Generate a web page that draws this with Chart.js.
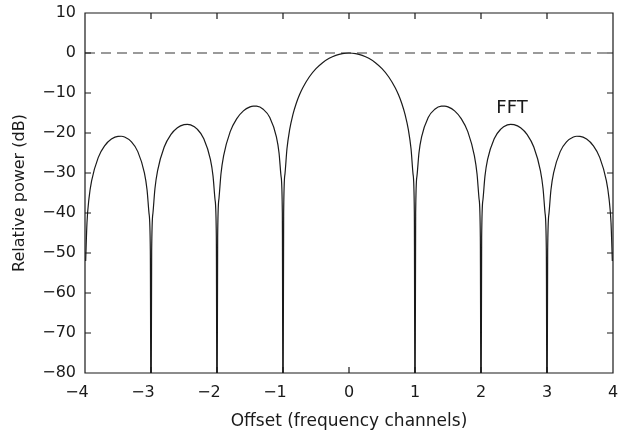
<!DOCTYPE html>
<html>
<head>
<meta charset="utf-8">
<title>FFT channel response</title>
<script src="https://cdn.jsdelivr.net/npm/chart.js@4/dist/chart.umd.min.js"></script>
<style>
  html, body { margin: 0; padding: 0; background: #fff; }
  #wrap { width: 622px; height: 434px; position: relative; }
</style>
</head>
<body>
<div id="wrap"><canvas id="fftChart"></canvas></div>
<script>
// Offset in frequency channels (denser near the nulls)
const offsets = [
  -3.99, -3.97, -3.94, -3.9, -3.8, -3.7, -3.6, -3.5, -3.45, -3.4, -3.3, -3.2, -3.1, -3.06, -3.03, -3.01,
  -3, -2.99, -2.97, -2.94, -2.9, -2.8, -2.7, -2.6, -2.5, -2.45, -2.4, -2.3, -2.2, -2.1, -2.06, -2.03, -2.01,
  -2, -1.99, -1.97, -1.94, -1.9, -1.8, -1.7, -1.6, -1.5, -1.45, -1.4, -1.3, -1.2, -1.1, -1.06, -1.03, -1.01,
  -1, -0.99, -0.97, -0.94, -0.9, -0.85, -0.8, -0.75, -0.7, -0.6, -0.5, -0.4, -0.3, -0.2, -0.1,
  0,
  0.1, 0.2, 0.3, 0.4, 0.5, 0.6, 0.7, 0.75, 0.8, 0.85, 0.9, 0.94, 0.97, 0.99, 1,
  1.01, 1.03, 1.06, 1.1, 1.2, 1.3, 1.4, 1.45, 1.5, 1.6, 1.7, 1.8, 1.9, 1.94, 1.97, 1.99, 2,
  2.01, 2.03, 2.06, 2.1, 2.2, 2.3, 2.4, 2.45, 2.5, 2.6, 2.7, 2.8, 2.9, 2.94, 2.97, 2.99, 3,
  3.01, 3.03, 3.06, 3.1, 3.2, 3.3, 3.4, 3.45, 3.5, 3.6, 3.7, 3.8, 3.9, 3.94, 3.97, 3.99
];

// Relative power (dB); nulls run off the bottom of the plot
const power = [
  -52.02, -42.45, -36.40, -31.96, -26.16, -23.15, -21.51, -20.82, -20.81, -21.01, -22.15, -24.66, -29.97, -34.20, -40.10, -49.57,
  -100, -49.51, -39.93, -33.86, -29.39, -23.50, -20.41, -18.68, -17.90, -17.83, -17.98, -19.02, -21.41, -26.59, -30.77, -36.62, -46.07,
  -100, -45.98, -36.36, -30.25, -25.72, -19.66, -16.39, -14.46, -13.46, -13.28, -13.30, -14.06, -16.14, -20.97, -24.99, -30.73, -40.09,
  -100, -39.91, -30.21, -23.95, -19.23, -15.39, -12.62, -10.45, -8.69, -5.94, -3.92, -2.42, -1.33, -0.58, -0.14,
  0,
  -0.14, -0.58, -1.33, -2.42, -3.92, -5.94, -8.69, -10.45, -12.62, -15.39, -19.23, -23.95, -30.21, -39.91, -100,
  -40.09, -30.73, -24.99, -20.97, -16.14, -14.06, -13.30, -13.28, -13.46, -14.46, -16.39, -19.66, -25.72, -30.25, -36.36, -45.98, -100,
  -46.07, -36.62, -30.77, -26.59, -21.41, -19.02, -17.98, -17.83, -17.90, -18.68, -20.41, -23.50, -29.39, -33.86, -39.93, -49.51, -100,
  -49.57, -40.10, -34.20, -29.97, -24.66, -22.15, -21.01, -20.81, -20.82, -21.51, -23.15, -26.16, -31.96, -36.40, -42.45, -52.02
];

// 0 dB reference line
const refX = [-4, 4];
const refY = [0, 0];

// Axis ticks
const xTickValues = [-4, -3, -2, -1, 0, 1, 2, 3, 4];
const yTickValues = [10, 0, -10, -20, -30, -40, -50, -60, -70, -80];

const inkColor = '#1a1a1a';
const fontFamily = '"DejaVu Sans", "Liberation Sans", Arial, sans-serif';

if (offsets.length !== power.length) {
    console.error('offsets/power length mismatch', offsets.length, power.length);
}

function minusLabel(v) {
    return v < 0 ? '\u2212' + Math.abs(v) : String(v);
}

// fixed axis boxes, no extra label overhang padding
function fixBox(size) {
    return s => {
        if (s.isHorizontal()) s.height = size; else s.width = size;
        s.paddingTop = 0; s.paddingBottom = 0;
        s.paddingLeft = 0; s.paddingRight = 0;
    };
}

// Box round the plot plus inward tick marks on all four sides, and the FFT label
const frameAndTicks = {
    id: 'frameAndTicks',
    afterDatasetsDraw(chart) {
        const { ctx, chartArea: a, scales: { x, y } } = chart;
        const len = 6;
        ctx.save();
        ctx.strokeStyle = inkColor;
        ctx.lineWidth = 1.2;
        ctx.beginPath();
        ctx.rect(a.left, a.top, a.right - a.left, a.bottom - a.top);
        xTickValues.forEach(v => {
            const px = x.getPixelForValue(v);
            ctx.moveTo(px, a.top); ctx.lineTo(px, a.top + len);
            ctx.moveTo(px, a.bottom); ctx.lineTo(px, a.bottom - len);
        });
        yTickValues.forEach(v => {
            const py = y.getPixelForValue(v);
            ctx.moveTo(a.left, py); ctx.lineTo(a.left + len, py);
            ctx.moveTo(a.right, py); ctx.lineTo(a.right - len, py);
        });
        ctx.stroke();

        ctx.fillStyle = inkColor;
        ctx.font = '18px ' + fontFamily;
        ctx.textAlign = 'center';
        ctx.textBaseline = 'middle';
        ctx.fillText('FFT', x.getPixelForValue(2.47), y.getPixelForValue(-13.8));
        ctx.restore();
    }
};

const points = offsets.map((o, i) => ({ x: o, y: power[i] }));
const refPoints = refX.map((o, i) => ({ x: o, y: refY[i] }));

new Chart(document.getElementById('fftChart'), {
    type: 'line',
    data: {
        datasets: [{
            label: 'FFT',
            data: points,
            borderColor: inkColor,
            borderWidth: 1.2,
            pointRadius: 0,
            fill: false,
            cubicInterpolationMode: 'monotone'
        }, {
            label: '0 dB',
            data: refPoints,
            borderColor: '#7a7a7a',
            borderWidth: 1.5,
            borderDash: [10, 6],
            pointRadius: 0,
            fill: false
        }]
    },
    options: {
        responsive: true,
        maintainAspectRatio: false,
        devicePixelRatio: 1,
        animation: false,
        layout: { padding: { top: 13, right: 9, left: 0, bottom: 0 } },
        plugins: {
            legend: { display: false },
            tooltip: { enabled: false }
        },
        scales: {
            x: {
                type: 'linear',
                min: -4,
                max: 4,
                afterFit: fixBox(61),
                afterBuildTicks: s => { s.ticks = xTickValues.map(v => ({ value: v })); },
                grid: { display: false, drawTicks: false },
                border: { display: false },
                ticks: {
                    color: inkColor,
                    padding: 10,
                    maxRotation: 0,
                    font: { family: fontFamily, size: 16 },
                    // negative labels hang left of the tick, as in the original
                    callback: v => v < 0 ? minusLabel(v) + '\u2003' : minusLabel(v)
                },
                title: {
                    display: true,
                    text: 'Offset (frequency channels)',
                    color: inkColor,
                    font: { family: fontFamily, size: 17 },
                    padding: { top: 0, bottom: 2 }
                }
            },
            y: {
                type: 'linear',
                min: -80,
                max: 10,
                afterFit: fixBox(85),
                afterBuildTicks: s => { s.ticks = yTickValues.map(v => ({ value: v })); },
                grid: { display: false, drawTicks: false },
                border: { display: false },
                ticks: {
                    color: inkColor,
                    padding: 9,
                    font: { family: fontFamily, size: 16 },
                    callback: v => minusLabel(v)
                },
                title: {
                    display: true,
                    text: 'Relative power (dB)',
                    color: inkColor,
                    font: { family: fontFamily, size: 16 },
                    padding: { top: 10, bottom: 0 }
                }
            }
        }
    },
    plugins: [frameAndTicks]
});
</script>
</body>
</html>
